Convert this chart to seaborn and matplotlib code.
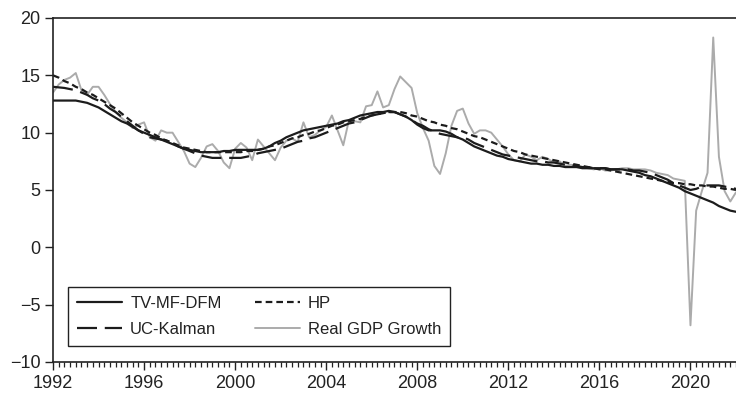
import numpy as np
import pandas as pd
import matplotlib
matplotlib.use("Agg")
import matplotlib.pyplot as plt
import seaborn as sns
from matplotlib.ticker import MultipleLocator

# Quarterly observations, 1992Q1 .. 2022Q1
start_year = 1992
n_quarters = 121

gdp_growth = [
    13.5, 14.2, 14.6, 14.8,
    15.2, 13.7, 13.3, 14.0,
    14.0, 13.3, 12.5, 11.8,
    11.3, 10.9, 10.4, 10.7,
    10.9, 9.6, 9.3, 10.2,
    10.0, 10.0, 9.2, 8.4,
    7.3, 7.0, 7.8, 8.8,
    9.0, 8.4, 7.4, 6.9,
    8.6, 9.1, 8.7, 7.6,
    9.4, 8.8, 8.2, 7.6,
    8.7, 9.3, 9.5, 9.2,
    10.9, 9.6, 9.8, 10.2,
    10.5, 11.5, 10.2, 8.9,
    11.1, 11.0, 10.9, 12.3,
    12.4, 13.6, 12.2, 12.4,
    13.8, 14.9, 14.4, 13.9,
    11.7, 10.4, 9.3, 7.1,
    6.4, 8.2, 10.6, 11.9,
    12.1, 10.8, 9.9, 10.2,
    10.2, 10.0, 9.4, 8.8,
    8.1, 7.6, 7.5, 8.1,
    7.9, 7.6, 7.9, 7.7,
    7.4, 7.5, 7.1, 7.2,
    7.0, 7.0, 6.9, 6.8,
    6.9, 6.7, 6.7, 6.8,
    6.9, 6.9, 6.8, 6.8,
    6.8, 6.7, 6.5, 6.4,
    6.3, 6.0, 5.9, 5.8,
    -6.8, 3.2, 4.9, 6.5,
    18.3, 7.9, 4.9, 4.0,
    4.8,
]

tv_mf_dfm = [
    12.8, 12.8, 12.8, 12.8,
    12.8, 12.7, 12.6, 12.4,
    12.2, 11.9, 11.6, 11.3,
    11.0, 10.8, 10.5, 10.2,
    10.0, 9.8, 9.6, 9.4,
    9.2, 9.0, 8.8, 8.6,
    8.5, 8.4, 8.3, 8.3,
    8.3, 8.3, 8.4, 8.4,
    8.5, 8.5, 8.5, 8.5,
    8.5, 8.6, 8.8, 9.1,
    9.3, 9.6, 9.8, 10.0,
    10.2, 10.3, 10.4, 10.5,
    10.6, 10.7, 10.8, 11.0,
    11.1, 11.3, 11.5, 11.6,
    11.7, 11.8, 11.8, 11.9,
    11.8, 11.6, 11.4, 11.1,
    10.7, 10.4, 10.2, 10.2,
    10.2, 10.1, 9.9, 9.6,
    9.4, 9.1, 8.8, 8.6,
    8.4, 8.2, 8.0, 7.9,
    7.7, 7.6, 7.5, 7.4,
    7.3, 7.3, 7.2, 7.2,
    7.1, 7.1, 7.0, 7.0,
    7.0, 6.9, 6.9, 6.9,
    6.9, 6.9, 6.8, 6.8,
    6.8, 6.7, 6.6, 6.5,
    6.3, 6.2, 6.0, 5.8,
    5.6, 5.4, 5.2, 4.9,
    4.7, 4.5, 4.3, 4.1,
    3.9, 3.6, 3.4, 3.2,
    3.1,
]

uc_kalman = [
    14.0, 13.95, 13.9, 13.8,
    13.7, 13.5, 13.3, 13.0,
    12.8, 12.5, 12.1, 11.8,
    11.4, 11.0, 10.6, 10.2,
    9.9, 9.6, 9.5, 9.4,
    9.3, 9.1, 8.8, 8.6,
    8.4, 8.2, 8.0, 7.9,
    7.8, 7.8, 7.8, 7.8,
    7.8, 7.8, 7.9, 8.0,
    8.2, 8.3, 8.4, 8.5,
    8.6, 8.8, 9.0, 9.2,
    9.3, 9.5, 9.6, 9.8,
    10.0, 10.2, 10.4, 10.6,
    10.8, 10.9, 11.1, 11.3,
    11.5, 11.6, 11.7, 11.8,
    11.8, 11.6, 11.4, 11.1,
    10.8, 10.6, 10.3, 10.1,
    9.9, 9.8, 9.7, 9.6,
    9.6, 9.4, 9.1, 8.9,
    8.7, 8.5, 8.3, 8.1,
    8.0, 7.9, 7.8, 7.7,
    7.6, 7.5, 7.5, 7.4,
    7.4, 7.3, 7.2, 7.2,
    7.1, 7.0, 7.0, 6.9,
    6.9, 6.9, 6.8, 6.8,
    6.8, 6.8, 6.7, 6.7,
    6.6, 6.5, 6.3, 6.1,
    5.9, 5.6, 5.4, 5.2,
    5.0, 5.1, 5.3, 5.4,
    5.4, 5.4, 5.3, 5.2,
    5.1,
]

hp_trend = [
    15.0, 14.8, 14.5, 14.3,
    14.0, 13.8, 13.5, 13.3,
    13.0, 12.7, 12.4, 12.1,
    11.7, 11.3, 10.9, 10.6,
    10.3, 10.0, 9.8, 9.5,
    9.3, 9.1, 8.9, 8.7,
    8.6, 8.5, 8.4, 8.3,
    8.3, 8.3, 8.3, 8.3,
    8.3, 8.3, 8.4, 8.4,
    8.5, 8.6, 8.8, 8.9,
    9.1, 9.3, 9.5, 9.6,
    9.8, 9.9, 10.1, 10.2,
    10.4, 10.6, 10.7, 10.9,
    11.0, 11.1, 11.2, 11.4,
    11.5, 11.6, 11.7, 11.8,
    11.8, 11.8, 11.7, 11.5,
    11.4, 11.2, 11.0, 10.9,
    10.7, 10.6, 10.4, 10.3,
    10.1, 9.9, 9.7, 9.6,
    9.4, 9.2, 9.0, 8.8,
    8.6, 8.4, 8.3, 8.1,
    8.0, 7.9, 7.8, 7.7,
    7.6, 7.5, 7.4, 7.3,
    7.2, 7.1, 7.0, 6.9,
    6.8, 6.8, 6.7, 6.6,
    6.5, 6.4, 6.3, 6.2,
    6.1, 6.0, 5.9, 5.8,
    5.7, 5.6, 5.6, 5.5,
    5.5, 5.4, 5.4, 5.3,
    5.3, 5.2, 5.1, 5.1,
    5.0,
]

x_ticks = [1992, 1996, 2000, 2004, 2008, 2012, 2016, 2020]
y_ticks = [-10, -5, 0, 5, 10, 15, 20]
y_tick_labels = ["\u221210", "\u22125", "0", "5", "10", "15", "20"]

time = start_year + np.arange(n_quarters) / 4.0
df = pd.DataFrame({
    "time": time,
    "Real GDP Growth": gdp_growth,
    "TV-MF-DFM": tv_mf_dfm,
    "UC-Kalman": uc_kalman,
    "HP": hp_trend,
})

sns.set_style("ticks")
plt.rcParams["font.family"] = ["Liberation Sans", "DejaVu Sans"]

fig = plt.figure(figsize=(7.36, 3.93), dpi=100)
ax = fig.add_axes([53 / 736, 31 / 393, 683 / 736, 344 / 393])

sns.lineplot(data=df, x="time", y="Real GDP Growth", ax=ax, color="#ababab",
             linewidth=1.4, label="Real GDP Growth")
sns.lineplot(data=df, x="time", y="TV-MF-DFM", ax=ax, color="#1c1c1c",
             linewidth=1.6, label="TV-MF-DFM")
sns.lineplot(data=df, x="time", y="UC-Kalman", ax=ax, color="#1c1c1c",
             linewidth=1.6, linestyle=(0, (9, 3.5)), label="UC-Kalman")
sns.lineplot(data=df, x="time", y="HP", ax=ax, color="#1c1c1c",
             linewidth=1.6, linestyle=(0, (3, 1.8)), label="HP")

ax.set_xlim(1992, 2022)
ax.set_ylim(-10, 20)
ax.set_xticks(x_ticks)
ax.set_xticklabels([str(v) for v in x_ticks])
ax.xaxis.set_minor_locator(MultipleLocator(0.25))
ax.set_yticks(y_ticks)
ax.set_yticklabels(y_tick_labels)
ax.set_xlabel("")
ax.set_ylabel("")

for side in ["left", "bottom", "top"]:
    ax.spines[side].set_visible(True)
    ax.spines[side].set_color("#222222")
    ax.spines[side].set_linewidth(1.2)
ax.spines["right"].set_visible(False)

ax.tick_params(axis="both", which="major", labelsize=13, colors="#222222",
               labelcolor="#222222", length=6, width=1.0, direction="out")
ax.tick_params(axis="x", which="minor", length=3.5, width=0.9, color="#222222")
ax.tick_params(axis="x", which="major", pad=3)
ax.tick_params(axis="y", which="major", pad=3)

handles, labels = ax.get_legend_handles_labels()
order = ["TV-MF-DFM", "UC-Kalman", "HP", "Real GDP Growth"]
hmap = dict(zip(labels, handles))
leg = ax.legend([hmap[k] for k in order], order, ncol=2, loc="lower left",
                bbox_to_anchor=(0.022, 0.0465), borderaxespad=0,
                fontsize=12, frameon=True, fancybox=False, framealpha=1,
                edgecolor="#222222", handlelength=2.7, handletextpad=0.48,
                columnspacing=2.0, borderpad=0.55, labelspacing=0.65)
leg.get_frame().set_linewidth(1.0)
for t in leg.get_texts():
    t.set_color("#222222")

fig.savefig("out.png", dpi=100)
